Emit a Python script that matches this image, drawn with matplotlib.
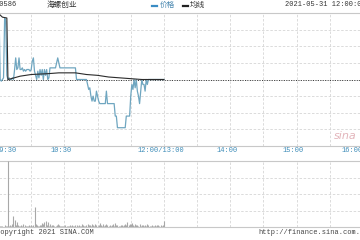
import matplotlib
matplotlib.use("Agg")
import matplotlib.pyplot as plt
from matplotlib.lines import Line2D
from matplotlib.transforms import blended_transform_factory

# 00586 intraday, 2021-05-31 (minutes since 09:30, lunch break removed)
prev_close = 37.50
price = [
    38.30, 38.24, 37.50, 37.48, 37.50, 37.52, 38.24, 38.20, 37.55, 37.50,
    37.52, 37.50, 37.50, 37.52, 37.50, 37.62, 37.76, 37.62, 37.64, 37.76,
    37.62, 37.62, 37.64, 37.60, 37.62, 37.60, 37.62, 37.62, 37.62, 37.60,
    37.62, 37.72, 37.76, 37.60, 37.55, 37.50, 37.60, 37.52, 37.62, 37.55,
    37.62, 37.50, 37.62, 37.55, 37.62, 37.50, 37.52, 37.64, 37.64, 37.64,
    37.64, 37.64, 37.64, 37.70, 37.76, 37.70, 37.64, 37.64, 37.64, 37.64,
    37.64, 37.64, 37.64, 37.64, 37.64, 37.64, 37.64, 37.64, 37.64, 37.64,
    37.64, 37.50, 37.50, 37.50, 37.50, 37.50, 37.50, 37.50, 37.50, 37.50,
    37.50, 37.44, 37.38, 37.40, 37.30, 37.24, 37.30, 37.24, 37.24, 37.36,
    37.30, 37.24, 37.21, 37.21, 37.21, 37.21, 37.21, 37.21, 37.36, 37.21,
    37.21, 37.21, 37.21, 37.21, 37.21, 37.21, 37.06, 37.06, 36.92, 36.92,
    36.92, 36.92, 36.92, 36.92, 36.92, 36.92, 37.06, 37.06, 37.06, 37.06,
    37.30, 37.44, 37.38, 37.50, 37.40, 37.50, 37.36, 37.30, 37.21, 37.36,
    37.50, 37.44, 37.44, 37.36, 37.50, 37.44, 37.50, 37.50, 37.50, 37.50,
    37.50, 37.50, 37.50, 37.50, 37.50, 37.50, 37.50, 37.50, 37.50, 37.50, 37.50,
]
avg_min = [0, 4, 8, 9, 12, 20, 30, 45, 55, 70, 80, 90, 100, 110, 120, 130, 150]
avg_price = [38.30, 38.25, 38.24, 37.50, 37.51, 37.54, 37.56, 37.57, 37.58,
             37.58, 37.56, 37.55, 37.53, 37.52, 37.51, 37.50, 37.50]
volume = [
    20, 6, 4, 8, 5, 3, 10, 4, 6, 400,
    8, 12, 6, 20, 68, 44, 10, 30, 14, 6,
    8, 12, 6, 18, 14, 6, 4, 8, 10, 6,
    12, 8, 14, 120, 18, 10, 8, 6, 14, 10,
    22, 16, 30, 36, 12, 28, 8, 16, 6, 10,
    12, 6, 8, 14, 20, 10, 6, 8, 4, 6,
    8, 10, 6, 4, 8, 12, 6, 10, 8, 6,
    14, 10, 8, 12, 6, 8, 16, 10, 6, 8,
    12, 18, 10, 14, 8, 20, 12, 8, 16, 10,
    8, 14, 22, 10, 6, 18, 8, 12, 20, 10,
    8, 12, 6, 10, 16, 8, 22, 14, 10, 6,
    8, 12, 10, 6, 14, 18, 10, 32, 12, 20,
    16, 24, 12, 8, 20, 10, 14, 8, 18, 6,
    10, 12, 8, 14, 6, 20, 10, 8, 6, 10,
    6, 8, 12, 6, 10, 14, 8, 10, 6, 12, 34,
]
tick_min = [0, 60, 150, 210, 270, 330]
tick_labels = ["09:30", "10:30", "12:00/13:00", "14:00", "15:00", "16:00"]

W, H = 360, 240
mono = "Liberation Mono"
cjk = ["Noto Sans CJK SC", "DejaVu Sans"]
grid_kw = dict(color="#d6d6d6", lw=0.6, ls=(0, (3, 2)))

fig = plt.figure(figsize=(3.6, 2.4), dpi=100)


def px(x, y):
    return x / W, 1 - y / H


left, right = -2 / W, 363 / W
ax1 = fig.add_axes([left, 1 - 146 / H, right - left, 133 / H])
ax2 = fig.add_axes([left, 1 - 227 / H, right - left, 66 / H])

span = 0.80
for ax in (ax1, ax2):
    ax.set_xlim(0, 330)
    ax.set_xticks(range(0, 331, 30))
    ax.tick_params(length=0, labelbottom=False, labelleft=False)
    ax.grid(True, **grid_kw)
    for s in ax.spines.values():
        s.set_color("#c8c8c8")
        s.set_linewidth(0.8)

ax1.set_ylim(prev_close - span, prev_close + span)
ax1.set_yticks([prev_close - span + i * span / 4 for i in range(9)])
ax1.axhline(prev_close, color="#333333", lw=0.7, ls=(0, (1, 1.5)), zorder=2)
ax1.plot(range(len(price)), price, color="#6fa6c0", lw=0.9, zorder=3)
ax1.plot(avg_min, avg_price, color="#2b2b2b", lw=0.8, zorder=4)

ax2.set_ylim(0, max(volume))
ax2.set_yticks([max(volume) * i / 4 for i in range(5)])
ax2.vlines(range(len(volume)), 0, volume, color="#a8a8a8", lw=0.8, zorder=3)

# time labels
tr = blended_transform_factory(ax1.transData, fig.transFigure)
ty = 1 - 151 / H
for m, lab in zip(tick_min, tick_labels):
    if m == tick_min[0]:
        ha, xm = "left", m - 2
    elif m == tick_min[-1]:
        ha, xm = "right", m
    else:
        ha, xm = "center", m - 3
    ax1.text(xm, ty, lab, transform=tr, ha=ha, va="center",
             fontsize=5, family=mono, color="#3d8cb8")

# header
fig.text(*px(-4, 5), "00586", fontsize=5, family=mono, color="#333333", va="center")
fig.text(*px(47, 5), "海螺创业", fontsize=5.5, family=cjk, color="#333333", va="center")
fig.add_artist(Line2D([152 / W, 157 / W], [1 - 5.5 / H] * 2, color="#3a8cc4", lw=1.6,
                      transform=fig.transFigure))
fig.text(*px(160, 5), "价格", fontsize=5.5, family=cjk, color="#4a88b0", va="center")
fig.add_artist(Line2D([183 / W, 188 / W], [1 - 5.5 / H] * 2, color="#222222", lw=1.6,
                      transform=fig.transFigure))
fig.text(*px(190, 5), "均线", fontsize=5.5, family=cjk, color="#333333", va="center")
fig.text(*px(285, 5), "2021-05-31 12:00:00", fontsize=5, family=mono, color="#333333",
         va="center")

# footer
fig.text(*px(-4, 233), "Copyright 2021 SINA.COM", fontsize=5, family=mono,
         color="#444444", va="center")
fig.text(*px(258, 233), "http://finance.sina.com.cn", fontsize=5, family=mono,
         color="#444444", va="center")

# watermark
fig.text(*px(334, 136), "sina", fontsize=8, style="italic", color="#e3b5bb",
         va="center")

fig.savefig("out.png", dpi=100)
